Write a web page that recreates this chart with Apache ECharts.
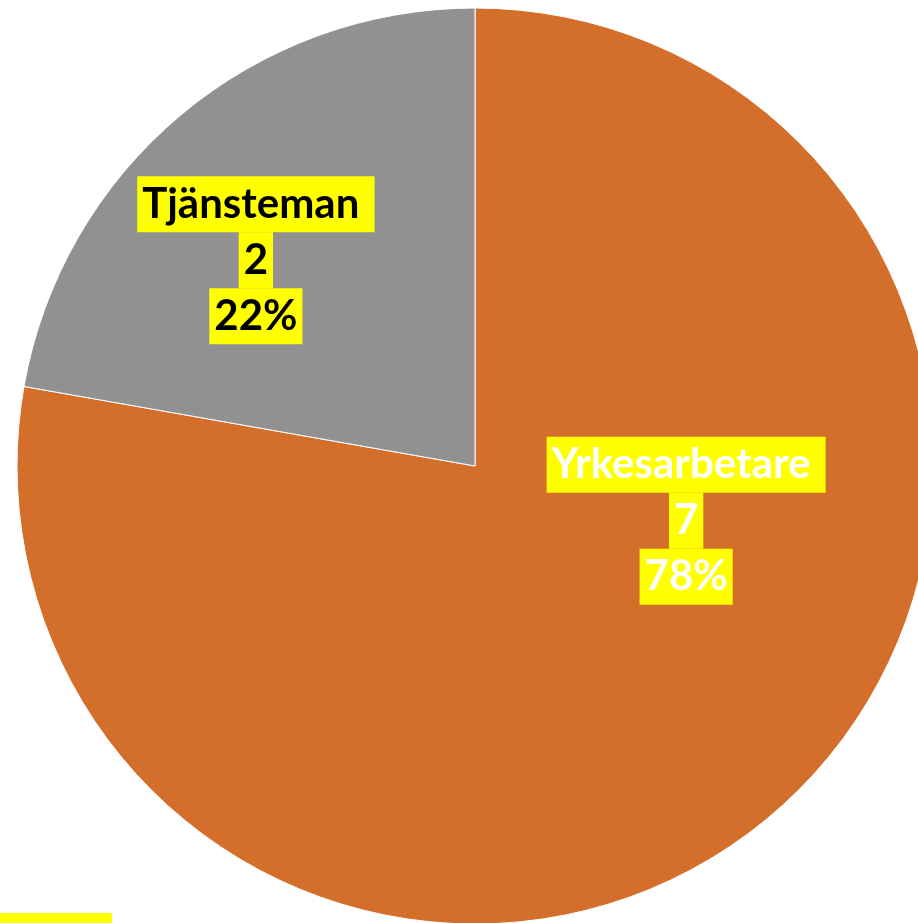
<!DOCTYPE html>
<html>
<head>
<meta charset="utf-8">
<script src="https://cdn.jsdelivr.net/npm/echarts@6/dist/echarts.min.js"></script>
<style>
  html, body { margin: 0; padding: 0; background: #fff; }
  #chart { width: 918px; height: 923px; }
</style>
</head>
<body>
<div id="chart"></div>
<script>
// data
var categories = ['Yrkesarbetare', 'Tjänsteman']
var counts = [7, 2]
var colors = ['#D46E2B', '#919191']
var labelColors = ['#ffffff', '#000000']
var labelOffsets = [[62, -123], [-70, -28]]

var total = counts.reduce(function (a, b) { return a + b }, 0)

function richFor (color) {
  var base = {
    fontFamily: 'Lato',
    fontWeight: 'bold',
    fontSize: 42,
    color: color,
    backgroundColor: '#ffff00',
    lineHeight: 56,
    height: 56,
    padding: [0, 5, 0, 5]
  }
  return { n: base, v: base, p: base }
}

var chart = echarts.init(document.getElementById('chart'))

chart.setOption({
  animation: false,
  series: [{
    type: 'pie',
    center: [475, 466],
    radius: 458,
    startAngle: 90,
    clockwise: true,
    itemStyle: { borderColor: '#ffffff', borderWidth: 1 },
    labelLine: { show: false },
    data: categories.map(function (name, i) {
      return {
        name: name,
        value: counts[i],
        itemStyle: { color: colors[i] },
        label: {
          show: true,
          position: 'inside',
          offset: labelOffsets[i],
          formatter: function (p) {
            return '{n|' + p.name + ' }\n{v|' + p.value + '}\n{p|' + Math.round(p.value / total * 100) + '%}'
          },
          rich: richFor(labelColors[i])
        }
      }
    })
  }],
  // clipped legend swatch at the bottom edge
  graphic: [{
    type: 'rect',
    shape: { x: 0, y: 913, width: 112, height: 10 },
    style: { fill: '#ffff00' }
  }]
})
</script>
</body>
</html>
